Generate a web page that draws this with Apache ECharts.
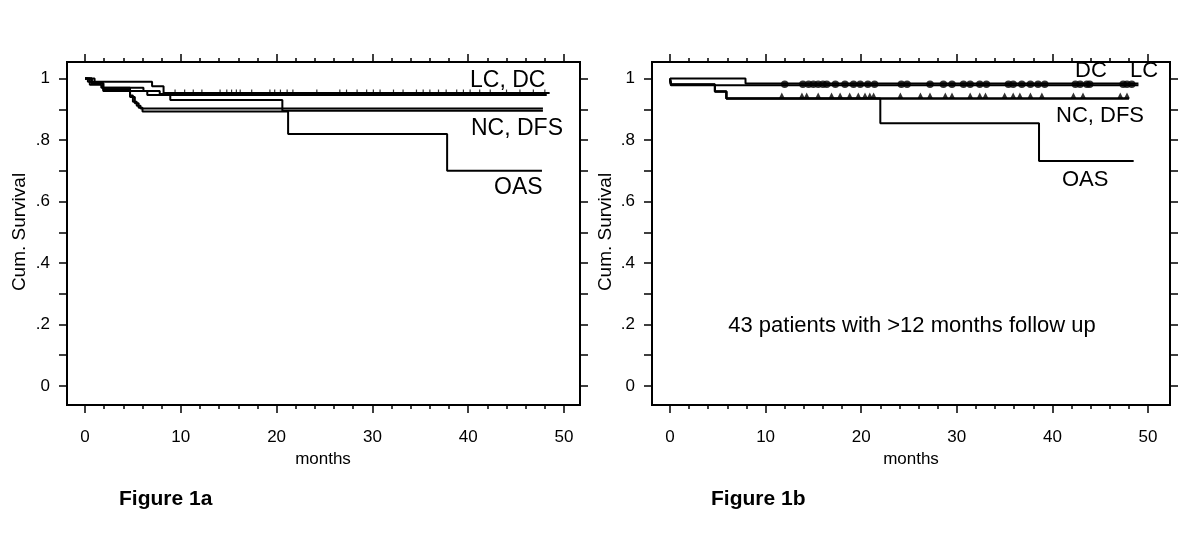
<!DOCTYPE html>
<html>
<head>
<meta charset="utf-8">
<script src="https://cdn.jsdelivr.net/npm/echarts@6/dist/echarts.min.js"></script>
<style>
html,body{margin:0;padding:0;background:#fff;}
#chart{width:1200px;height:554px;}
</style>
</head>
<body>
<div id="chart"></div>
<script>
// ---------- DATA ----------
// Figure 1a (times in months, cumulative survival)
const aLC_t  = [0, 0.3, 7.0, 8.2, 48.5];
const aLC_s  = [1, 0.99, 0.975, 0.953, 0.953];
const aDC_t  = [0, 1.0, 1.9, 4.7, 6.5, 48.2];
const aDC_s  = [1, 0.985, 0.97, 0.96, 0.947, 0.947];
const aNC_t  = [0, 0.7, 1.9, 4.7, 5.0, 5.4, 5.8, 47.8];
const aNC_s  = [1, 0.985, 0.965, 0.945, 0.925, 0.912, 0.903, 0.903];
const aDFS_t = [0, 0.5, 1.7, 6.1, 7.8, 8.9, 20.6, 47.8];
const aDFS_s = [1, 0.98, 0.97, 0.96, 0.95, 0.93, 0.895, 0.895];
const aOAS_t = [0, 0.7, 1.9, 4.7, 5.2, 5.6, 6.0, 21.2, 37.8, 47.7];
const aOAS_s = [1, 0.985, 0.96, 0.94, 0.92, 0.905, 0.893, 0.82, 0.70, 0.70];
const aCensor = [9.4,10.4,11.3,12.2,14.1,14.8,15.3,15.8,16.2,17.4,19.3,19.8,20.4,21.1,21.7,24.2,26.6,27.3,28.4,29.4,30.1,30.8,32.2,33.2,34.6,35.3,36.0,36.9,37.7,38.8,39.5,40.2,41.2,42.3,44.0,45.4,46.8,48.0];

// Figure 1b
const bLC_t  = [0, 0.1, 49.0];
const bLC_s  = [1, 0.978, 0.978];
const bDC_t  = [0, 7.9, 49.0];
const bDC_s  = [1, 0.984, 0.984];
const bNC_t  = [0, 0.1, 4.7, 5.9, 48.0];
const bNC_s  = [1, 0.981, 0.958, 0.935, 0.935];
const bDFS_t = [0, 0.1, 4.7, 5.9, 48.0];
const bDFS_s = [1, 0.981, 0.958, 0.935, 0.935];
const bOAS_t = [0, 0.1, 4.7, 5.9, 22.0, 38.6, 48.5];
const bOAS_s = [1, 0.981, 0.958, 0.935, 0.855, 0.732, 0.732];
const bCensorCircle = [12.0,13.9,14.5,15.0,15.5,16.0,16.4,17.3,18.3,19.2,19.9,20.7,21.4,24.2,24.8,27.2,28.6,29.5,30.7,31.4,32.4,33.1,35.4,35.9,36.8,37.7,38.5,39.2,42.4,42.9,43.6,43.9,47.4,47.8,48.3];
const bCensorTri = [11.7,13.8,14.3,15.5,16.9,17.8,18.8,19.7,20.4,20.9,21.3,24.1,26.2,27.2,28.8,29.5,31.4,32.4,33.0,35.0,35.9,36.6,37.7,38.9,42.2,43.2,47.1,47.8];

// Tick values / labels
const xMajor = [0, 10, 20, 30, 40, 50];
const xMinor = [2,4,6,8,12,14,16,18,22,24,26,28,32,34,36,38,42,44,46,48];
const yLabels = [0, 0.2, 0.4, 0.6, 0.8, 1];
const yTicks = [0,0.1,0.2,0.3,0.4,0.5,0.6,0.7,0.8,0.9,1];

// ---------- HELPERS ----------
const FONT = 'Liberation Sans, Arial, sans-serif';
function pts(t, s){ return t.map((v,i)=>[v, s[i]]); }
function levelAt(t, s, x){ let v = s[0]; for (let i=0;i<t.length;i++){ if (t[i] <= x) v = s[i]; } return v; }
function yFmt(v){ if (v === 0) return '0'; if (v === 1) return '1'; return String(Math.round(v*10)/10).replace('0.', '.'); }

function xAxes(gridIndex, min, max){
  const base = {type:'value', gridIndex, min, max, splitLine:{show:false},
    axisLine:{show:false, onZero:false}};
  return [
    Object.assign({}, base, {position:'bottom',
      axisTick:{show:true, customValues:xMajor, length:8, lineStyle:{color:'#000', width:1.5}},
      axisLabel:{show:true, customValues:xMajor, margin:24, color:'#000', fontSize:17, fontFamily:FONT}}),
    Object.assign({}, base, {position:'bottom',
      axisTick:{show:true, customValues:xMinor, length:4, lineStyle:{color:'#000', width:1.5}},
      axisLabel:{show:false}}),
    Object.assign({}, base, {position:'top',
      axisTick:{show:true, customValues:xMajor, length:8, lineStyle:{color:'#000', width:1.5}},
      axisLabel:{show:false}}),
    Object.assign({}, base, {position:'top',
      axisTick:{show:true, customValues:xMinor, length:4, lineStyle:{color:'#000', width:1.5}},
      axisLabel:{show:false}})
  ];
}
function yAxes(gridIndex){
  const base = {type:'value', gridIndex, min:-0.062, max:1.054, splitLine:{show:false},
    axisLine:{show:false, onZero:false}};
  return [
    Object.assign({}, base, {position:'left',
      axisTick:{show:true, customValues:yTicks, length:8, lineStyle:{color:'#000', width:1.5}},
      axisLabel:{show:true, customValues:yLabels, formatter:yFmt, margin:17, color:'#000', fontSize:17, fontFamily:FONT}}),
    Object.assign({}, base, {position:'right',
      axisTick:{show:true, customValues:yTicks, length:8, lineStyle:{color:'#000', width:1.5}},
      axisLabel:{show:false}})
  ];
}
function stepSeries(t, s, xi, yi){
  return {type:'line', step:'end', data:pts(t,s), xAxisIndex:xi, yAxisIndex:yi,
    symbol:'none', lineStyle:{color:'#000', width:2}, silent:true, z:3};
}
function censorSeries(times, t, s, xi, yi, symbol, size, offset){
  return {type:'scatter', data: times.map(x=>[x, levelAt(t, s, x)]), xAxisIndex:xi, yAxisIndex:yi,
    symbol, symbolSize:size, symbolOffset:offset, itemStyle:{color:'#000'}, silent:true, z:4};
}
function txt(x, y, text, size, opts){
  return Object.assign({type:'text', x, y, silent:true, style:Object.assign({text, fill:'#000', fontSize:size, fontFamily:FONT, textAlign:'left', textVerticalAlign:'middle'}, opts||{})});
}

const chart = echarts.init(document.getElementById('chart'), null, {renderer:'canvas'});
const option = {
  animation:false,
  backgroundColor:'#fff',
  grid:[
    {left:67, top:62, width:513, height:343, show:true, borderColor:'#000', borderWidth:2, backgroundColor:'transparent'},
    {left:652, top:62, width:518, height:343, show:true, borderColor:'#000', borderWidth:2, backgroundColor:'transparent'}
  ],
  xAxis: xAxes(0, -1.88, 51.67).concat(xAxes(1, -1.88, 52.3)),
  yAxis: yAxes(0).concat(yAxes(1)),
  series:[
    stepSeries(aLC_t, aLC_s, 0, 0),
    stepSeries(aDC_t, aDC_s, 0, 0),
    stepSeries(aNC_t, aNC_s, 0, 0),
    stepSeries(aDFS_t, aDFS_s, 0, 0),
    stepSeries(aOAS_t, aOAS_s, 0, 0),
    censorSeries(aCensor, aLC_t, aLC_s, 0, 0, 'rect', [1.2, 3], [0, -2]),
    stepSeries(bLC_t, bLC_s, 4, 2),
    stepSeries(bDC_t, bDC_s, 4, 2),
    stepSeries(bNC_t, bNC_s, 4, 2),
    stepSeries(bDFS_t, bDFS_s, 4, 2),
    stepSeries(bOAS_t, bOAS_s, 4, 2),
    censorSeries(bCensorCircle, bLC_t, bLC_s, 4, 2, 'circle', 7.5, [0, -1]),
    censorSeries(bCensorTri, bNC_t, bNC_s, 4, 2, 'triangle', 6, [0, -3])
  ],
  graphic:[
    txt(470, 81, 'LC, DC', 23),
    txt(471, 129, 'NC, DFS', 23),
    txt(494, 188, 'OAS', 23),
    txt(1075, 71, 'DC', 22),
    txt(1130, 71, 'LC', 22),
    txt(1056, 116, 'NC, DFS', 22),
    txt(1062, 180, 'OAS', 22),
    txt(912, 326, '43 patients with >12 months follow up', 22, {textAlign:'center'}),
    txt(323, 459, 'months', 17, {textAlign:'center'}),
    txt(911, 459, 'months', 17, {textAlign:'center'}),
    Object.assign(txt(20, 232, 'Cum. Survival', 19, {textAlign:'center'}), {rotation:Math.PI/2}),
    Object.assign(txt(606, 232, 'Cum. Survival', 19, {textAlign:'center'}), {rotation:Math.PI/2}),
    txt(119, 499, 'Figure 1a', 21, {fontWeight:'bold'}),
    txt(711, 499, 'Figure 1b', 21, {fontWeight:'bold'})
  ]
};
chart.setOption(option);
</script>
</body>
</html>
